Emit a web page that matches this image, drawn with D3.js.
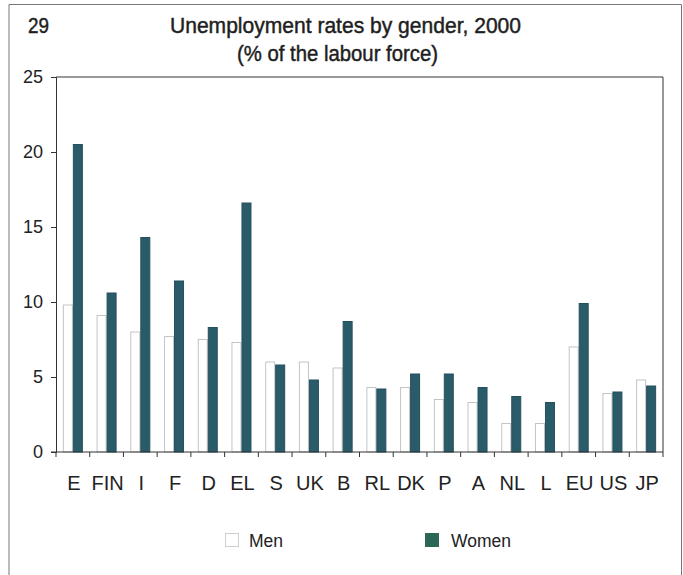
<!DOCTYPE html>
<html>
<head>
<meta charset="utf-8">
<script src="https://cdn.jsdelivr.net/npm/d3@7"></script>
<style>
  html, body { margin: 0; padding: 0; background: #fff; }
  svg { display: block; font-family: "Liberation Sans", Arial, sans-serif; }
</style>
</head>
<body>
<svg id="chart" width="683" height="575"></svg>
<script>
// Unemployment rates by gender, 2000 (% of the labour force)
const countries = ["E", "FIN", "I", "F", "D", "EL", "S", "UK", "B", "RL", "DK", "P", "A", "NL", "L", "EU", "US", "JP"];
const men   = [9.8, 9.1, 8.0, 7.7, 7.5, 7.3, 6.0, 6.0, 5.6, 4.3, 4.3, 3.5, 3.3, 1.9, 1.9, 7.0, 3.9, 4.8];
const women = [20.5, 10.6, 14.3, 11.4, 8.3, 16.6, 5.8, 4.8, 8.7, 4.2, 5.2, 5.2, 4.3, 3.7, 3.3, 9.9, 4.0, 4.4];
const seriesNames = ["Men", "Women"];
const yTicks = [0, 5, 10, 15, 20, 25];

const svg = d3.select("#chart");
const margin = { left: 56, right: 20, top: 77, bottom: 123 };
const W = 683, H = 575;
const x0 = margin.left, x1 = W - margin.right;
const yTop = margin.top, yBot = H - margin.bottom;

const colors = { Men: "#ffffff", Women: "#2a5b69" };
const strokes = { Men: "#c4c4c4", Women: "#24505d" };
const narrow = "'Liberation Sans Narrow', 'Liberation Sans', Arial, sans-serif";

// outer frame (open at the bottom)
svg.append("path")
  .attr("d", `M9,575 V4.5 H681.5 V575`)
  .attr("fill", "none").attr("stroke", "#777").attr("stroke-width", 1);

// titles
const titleStyle = sel => sel.attr("font-size", 22).attr("fill", "#1e1e1e")
  .attr("stroke", "#1e1e1e").attr("stroke-width", 0.45);
svg.append("text").attr("x", 28).attr("y", 33).call(titleStyle)
  .attr("textLength", 21).attr("lengthAdjust", "spacingAndGlyphs").text("29");
svg.append("text").attr("x", 170).attr("y", 33).call(titleStyle)
  .attr("textLength", 351).attr("lengthAdjust", "spacingAndGlyphs")
  .text("Unemployment rates by gender, 2000");
svg.append("text").attr("x", 237).attr("y", 61).call(titleStyle)
  .attr("textLength", 201).attr("lengthAdjust", "spacingAndGlyphs")
  .text("(% of the labour force)");

// scales
const x = d3.scaleBand().domain(countries).range([x0, x1]).padding(0);
const xs = d3.scaleBand().domain(seriesNames).range([0, 20]).padding(0);
const y = d3.scaleLinear().domain([0, 25]).range([yBot, yTop]);

// plot frame: top and right edges
svg.append("path")
  .attr("d", `M${x0},${yTop} H${x1} V${yBot}`)
  .attr("fill", "none").attr("stroke", "#333").attr("stroke-width", 1);

// bars
const groups = svg.append("g").selectAll("g")
  .data(countries)
  .join("g")
  .attr("transform", d => `translate(${x(d) + x.bandwidth() / 2 - 10},0)`);

groups.each(function (c, i) {
  const g = d3.select(this);
  const vals = [{ s: "Men", v: men[i] }, { s: "Women", v: women[i] }];
  g.selectAll("rect").data(vals).join("rect")
    .attr("x", d => xs(d.s) + 0.5)
    .attr("y", d => y(d.v))
    .attr("width", xs.bandwidth() - 1)
    .attr("height", d => yBot - y(d.v))
    .attr("fill", d => colors[d.s])
    .attr("stroke", d => strokes[d.s])
    .attr("stroke-width", 1);
});

// y axis
const yAxis = d3.axisLeft(y).tickValues(yTicks).tickSize(5).tickPadding(8).tickFormat(d3.format("d"));
const gy = svg.append("g").attr("transform", `translate(${x0},0)`).call(yAxis);
gy.select(".domain").attr("stroke", "#333");
gy.selectAll(".tick line").attr("stroke", "#333");
gy.selectAll(".tick text").attr("font-size", 18).attr("fill", "#222")
  .attr("font-family", "'Liberation Sans', Arial, sans-serif");

// x axis: ticks at category boundaries, labels at centres
const gx = svg.append("g").attr("transform", `translate(0,${yBot})`);
gx.append("line").attr("x1", x0 - 5).attr("x2", x1).attr("y1", 0).attr("y2", 0)
  .attr("stroke", "#333");
const bounds = countries.map(c => x(c)).concat([x1]);
gx.selectAll("line.b").data(bounds).join("line").attr("class", "b")
  .attr("x1", d => d).attr("x2", d => d).attr("y1", 0).attr("y2", 5)
  .attr("stroke", "#333");
gx.selectAll("text").data(countries).join("text")
  .attr("x", d => x(d) + x.bandwidth() / 2 + 1)
  .attr("y", 38)
  .attr("text-anchor", "middle")
  .attr("font-family", narrow)
  .attr("font-size", 20).attr("fill", "#222")
  .text(d => d);

// legend
const legend = svg.append("g");
const legendItems = [{ s: "Men", bx: 225.5, tx: 249 }, { s: "Women", bx: 425.5, tx: 451 }];
legendItems.forEach(it => {
  legend.append("rect").attr("x", it.bx).attr("y", 533.5).attr("width", 13).attr("height", 13)
    .attr("fill", it.s === "Women" ? "#2b6656" : "#fff")
    .attr("stroke", it.s === "Women" ? "#2b6656" : "#cfcfcf");
  legend.append("text").attr("x", it.tx).attr("y", 547)
    .attr("font-size", 17.5).attr("fill", "#222").text(it.s);
});
</script>
</body>
</html>
